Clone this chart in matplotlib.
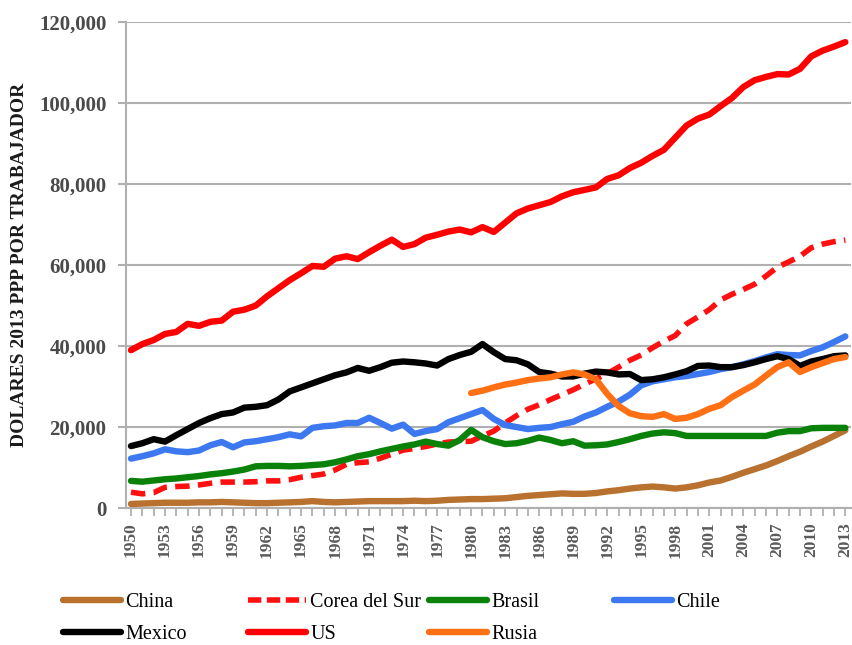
import matplotlib
matplotlib.use("Agg")
import matplotlib.pyplot as plt
from matplotlib.lines import Line2D

years = list(range(1950, 2014))
rusia_years = list(range(1980, 2014))

china = [1000, 1100, 1200, 1300, 1300, 1300, 1400, 1400, 1500, 1400,
         1300, 1200, 1200, 1300, 1400, 1500, 1700, 1500, 1400, 1500,
         1600, 1700, 1700, 1700, 1700, 1800, 1700, 1800, 2000, 2100,
         2200, 2200, 2300, 2400, 2700, 3000, 3200, 3400, 3600, 3500,
         3500, 3700, 4100, 4400, 4800, 5100, 5300, 5100, 4800, 5100,
         5600, 6300, 6800, 7700, 8700, 9600, 10500, 11600, 12800, 13900,
         15200, 16400, 17800, 19200]
corea = [3900, 3500, 3800, 5100, 5300, 5400, 5700, 6100, 6400, 6400,
         6400, 6500, 6700, 6700, 7000, 7600, 8000, 8400, 9400, 10800,
         11200, 11400, 12300, 13300, 14300, 14700, 15200, 15800, 16300, 16400,
         16500, 17800, 19000, 21000, 22800, 24400, 25500, 26800, 28000, 29200,
         30600, 31900, 33200, 34800, 36500, 37800, 39600, 41200, 42600, 45500,
         47200, 49000, 51400, 52800, 54000, 55300, 57300, 59500, 60800, 62200,
         64300, 65200, 65800, 66200]
brasil = [6700, 6500, 6800, 7100, 7300, 7600, 7900, 8300, 8600, 9000,
          9500, 10300, 10400, 10400, 10300, 10400, 10600, 10800, 11300, 12000,
          12800, 13300, 14000, 14600, 15200, 15700, 16400, 15800, 15400, 16800,
          19300, 17500, 16500, 15800, 16000, 16600, 17400, 16800, 16000, 16500,
          15400, 15500, 15700, 16300, 17000, 17800, 18400, 18700, 18500, 17800,
          17800, 17800, 17800, 17800, 17800, 17800, 17800, 18600, 19000, 19000,
          19700, 19800, 19800, 19800]
chile = [12200, 12800, 13500, 14500, 14000, 13800, 14200, 15500, 16300, 15000,
         16200, 16500, 17000, 17500, 18200, 17700, 19800, 20200, 20400, 21000,
         21000, 22300, 21000, 19600, 20600, 18300, 19000, 19500, 21200, 22200,
         23200, 24200, 22000, 20500, 20000, 19500, 19800, 20000, 20700, 21300,
         22600, 23600, 25000, 26300, 28000, 30300, 31300, 31800, 32300, 32600,
         33100, 33600, 34300, 34800, 35500, 36300, 37200, 38000, 37800, 37700,
         38800, 39700, 41000, 42400]
mexico = [15300, 16000, 17000, 16400, 18000, 19500, 21000, 22200, 23200, 23600,
          24800, 25000, 25400, 26800, 28800, 29800, 30800, 31800, 32800, 33500,
          34600, 33900, 34800, 35900, 36200, 36000, 35700, 35200, 36800, 37800,
          38600, 40500, 38500, 36800, 36500, 35500, 33600, 33200, 32500, 32500,
          33200, 33700, 33500, 33000, 33100, 31600, 31800, 32300, 33000, 33800,
          35100, 35200, 34800, 34800, 35300, 36000, 36800, 37500, 36800, 35100,
          36200, 36800, 37500, 37700]
us = [39000, 40500, 41500, 43000, 43500, 45500, 45000, 46000, 46300, 48500,
      49000, 50000, 52300, 54300, 56300, 58000, 59800, 59600, 61600, 62200,
      61500, 63200, 64800, 66300, 64500, 65200, 66800, 67500, 68300, 68800,
      68100, 69400, 68200, 70500, 72800, 74000, 74800, 75600, 77000, 78000,
      78600, 79200, 81300, 82200, 84000, 85300, 87000, 88500, 91500, 94500,
      96200, 97200, 99300, 101300, 104000, 105700, 106500, 107200, 107100, 108500,
      111600, 113000, 114000, 115100]
rusia = [28400, 29000, 29800, 30500, 31000, 31600, 32000, 32300, 33000, 33500,
         33000, 31800, 28200, 25200, 23400, 22700, 22500, 23200, 22000, 22300,
         23200, 24500, 25400, 27400, 29000, 30500, 32700, 34800, 36000, 33600,
         34800, 35800, 36800, 37300]

series_names = ["China", "Corea del Sur", "Brasil", "Chile", "Mexico", "US", "Rusia"]
y_ticks = [0, 20000, 40000, 60000, 80000, 100000, 120000]
x_tick_years = list(range(1950, 2014, 3))

colors = {"China": "#B8712F", "Corea del Sur": "#FF1010", "Brasil": "#0A820A",
          "Chile": "#3C78F0", "Mexico": "#000000", "US": "#FF0000", "Rusia": "#FF7015"}

serif = ["Liberation Serif", "DejaVu Serif"]

fig = plt.figure(figsize=(8.52, 6.45), dpi=100)
ax = fig.add_axes([126 / 852, 1 - 508 / 645, 725 / 852, (508 - 22.3) / 645])

lw = 4.6
data = {"China": (years, china), "Corea del Sur": (years, corea), "Brasil": (years, brasil),
        "Chile": (years, chile), "Mexico": (years, mexico), "US": (years, us),
        "Rusia": (rusia_years, rusia)}
handles = {}
for name in series_names:
    xs, ys = data[name]
    if name == "Corea del Sur":
        ln, = ax.plot(xs, ys, color=colors[name], lw=4.0, linestyle=(0, (2.6, 1.5)),
                      dash_capstyle="butt", zorder=3)
    else:
        ln, = ax.plot(xs, ys, color=colors[name], lw=lw, solid_joinstyle="round",
                      solid_capstyle="round", zorder=3)
    handles[name] = ln

ax.set_xlim(1949.56, 2013.5)
ax.set_ylim(0, 120000)
ax.set_yticks(y_ticks)
ax.set_yticklabels([f"{v:,}" for v in y_ticks])
ax.set_xticks(x_tick_years)
ax.set_xticklabels([str(y) for y in x_tick_years], rotation=90)
ax.set_xticks(years, minor=True)

grid_c = "#B0B0B0"
ax.grid(axis="y", color=grid_c, lw=1.5, zorder=1)
for s in ["top", "right"]:
    ax.spines[s].set_visible(False)
for s in ["left", "bottom"]:
    ax.spines[s].set_color(grid_c)
    ax.spines[s].set_linewidth(1.5)
ax.tick_params(axis="y", colors=grid_c, length=6, width=1.5, labelcolor="#4a4a4a",
               labelsize=15, pad=8)
ax.tick_params(axis="x", which="both", colors=grid_c, length=5.5, width=1.3,
               labelcolor="#5a5a5a", labelsize=12.5, pad=5)
for lab in ax.get_yticklabels() + ax.get_xticklabels():
    lab.set_family(serif)
    lab.set_fontweight("bold")

ax.set_ylabel("DOLARES 2013 PPP POR TRABAJADOR", family=serif,
              fontweight="bold", fontsize=14, color="#1a1a1a", labelpad=8)

# legend: four columns at fixed positions (handle start x in pixels)
col_x = [63, 248, 429, 614]
columns = [["China", "Mexico"], ["Corea del Sur", "US"], ["Brasil", "Rusia"], ["Chile"]]
for cx, names in zip(col_x, columns):
    hs = []
    for n in names:
        h = handles[n]
        if n == "Corea del Sur":
            hs.append(Line2D([], [], color=h.get_color(), lw=4.0, linestyle=(0, (2.4, 1.0)),
                             dash_capstyle="butt"))
        else:
            hs.append(Line2D([], [], color=h.get_color(), lw=4.6, solid_capstyle="round"))
    yc = (1 - 618.5 / 645) if len(names) == 2 else (1 - 602 / 645)
    fig.legend(hs, names, loc="center left", bbox_to_anchor=(cx / 852, yc), frameon=False,
               handlelength=2.9, handletextpad=0.2, labelspacing=0.65, borderpad=0,
               borderaxespad=0, prop={"family": serif, "size": 14.5})

fig.savefig("out.png", dpi=100)
